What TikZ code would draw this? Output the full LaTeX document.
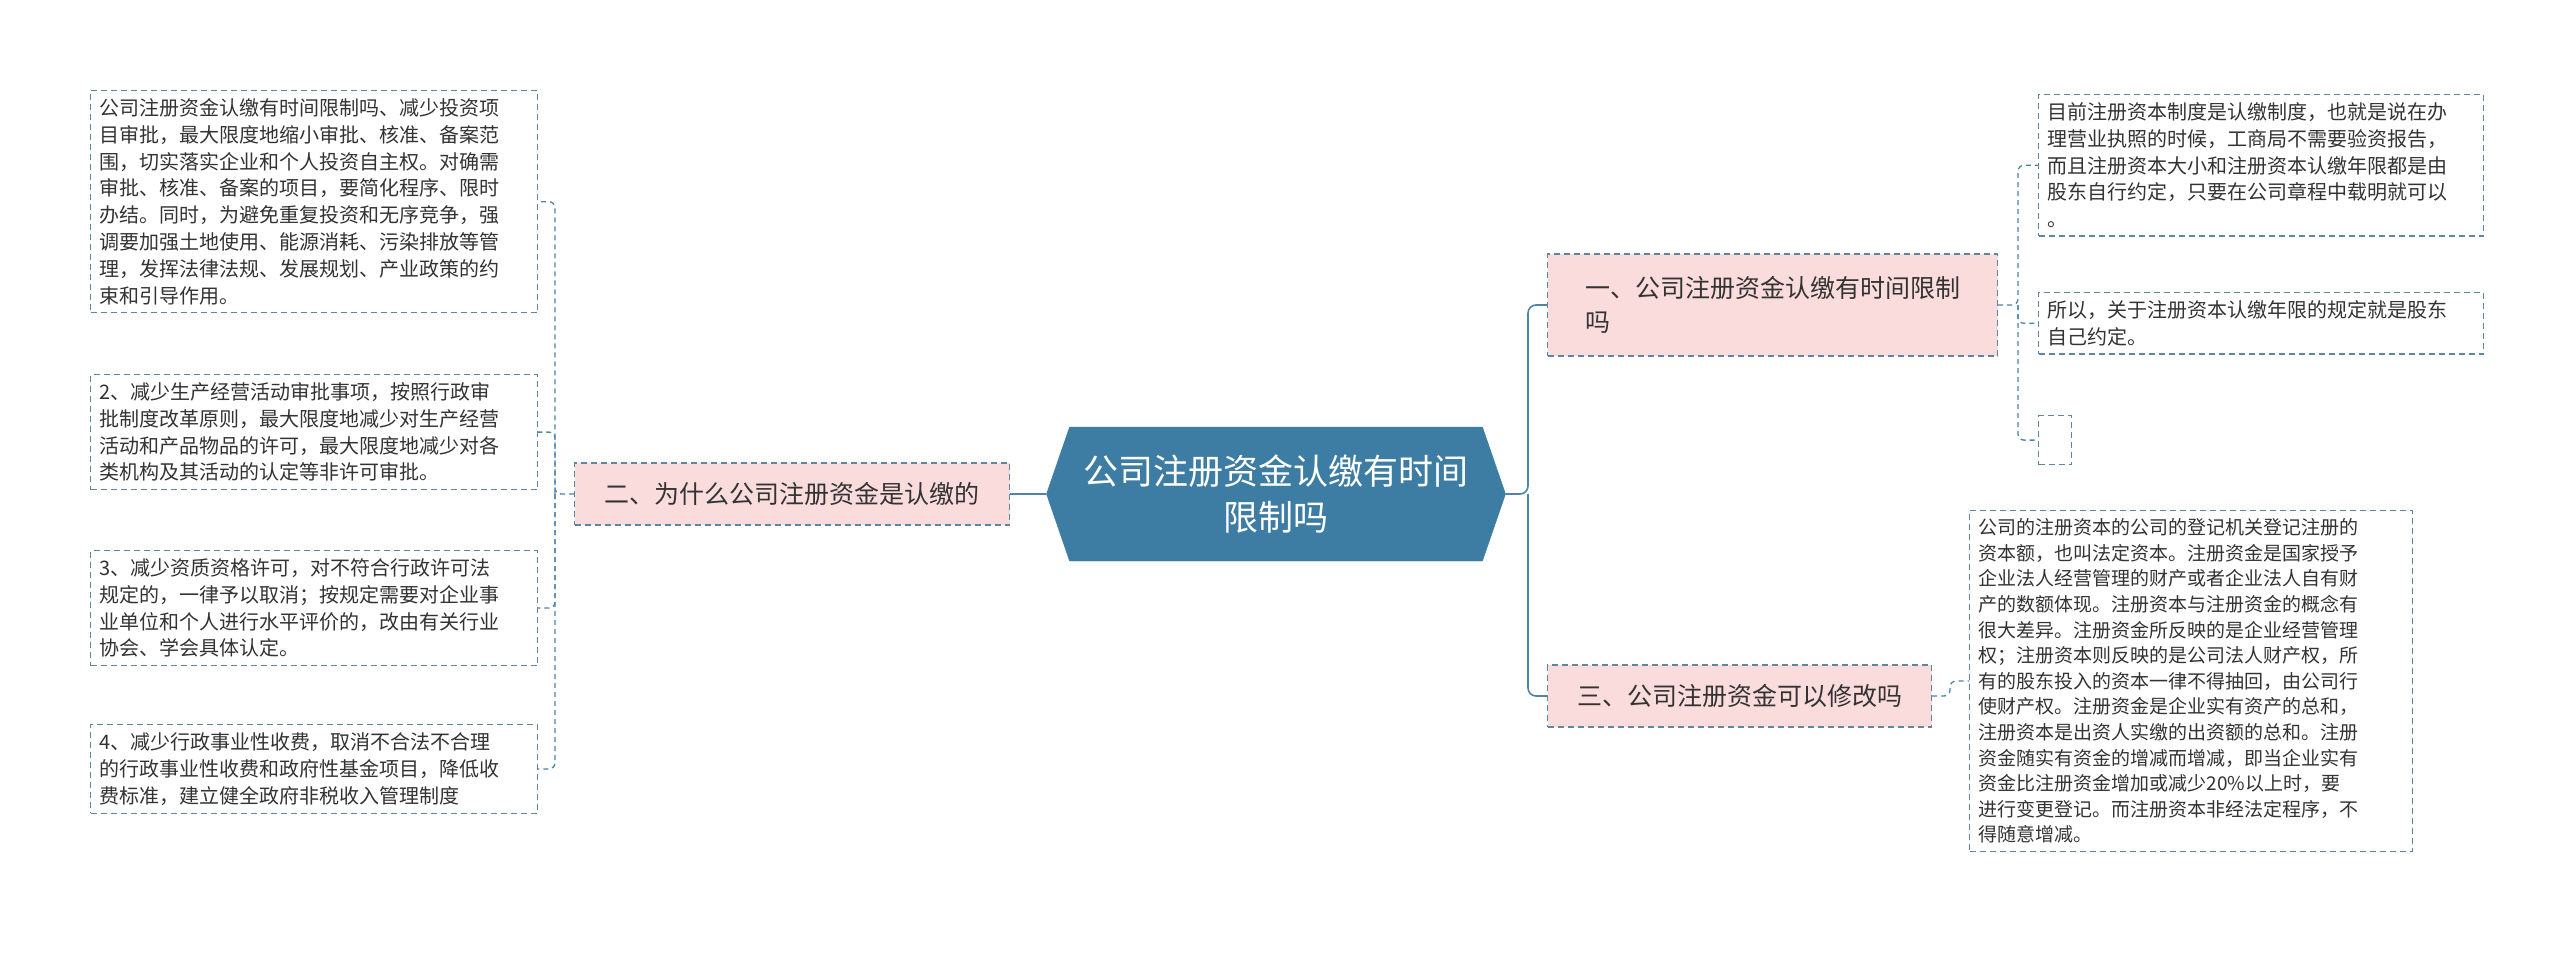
\documentclass[tikz,border=0pt]{standalone}
\usepackage{fontspec}
\setmainfont{Noto Sans CJK SC}
\usetikzlibrary{shapes.symbols}
\definecolor{mainblue}{HTML}{3D7CA3}
\definecolor{linec}{HTML}{4F84A6}
\definecolor{pinkf}{HTML}{FBDCDC}
\definecolor{dashc}{HTML}{5D86A1}
\definecolor{txt}{HTML}{333333}
\begin{document}
\begin{tikzpicture}[x=1pt,y=-1pt,
 leaf/.style={draw=dashc,dashed,dash pattern=on 6pt off 4pt,line width=1.2pt,anchor=north west,align=left,inner xsep=9pt,inner ysep=8pt,text=txt,font=\fontsize{20}{26.8}\selectfont},
 leafs/.style={leaf,font=\fontsize{19}{25.6}\selectfont},
 branch/.style={draw=dashc,dashed,dash pattern=on 6pt off 4pt,line width=1.2pt,fill=pinkf,align=left,anchor=west,inner xsep=12pt,text=txt,font=\fontsize{25}{34}\selectfont},
 conn/.style={draw=linec,line width=1.6pt,rounded corners=8pt},
 dconn/.style={draw=linec,line width=1.3pt,dashed,dash pattern=on 5pt off 4pt,rounded corners=6pt}]
\useasboundingbox (0,0) rectangle (2560,971);
\fill[white] (0,0) rectangle (2560,971);

\node[signal,signal to=west and east,signal pointer angle=142,fill=mainblue,draw=mainblue,minimum width=459pt,minimum height=134pt,text=white,align=center,font=\fontsize{35}{46}\selectfont] (c) at (1276,494) {公司注册资金认缴有时间\\限制吗};

\node[branch,minimum width=435pt,minimum height=62pt] (b2) at (574,494) {二、为什么公司注册资金是认缴的};
\node[branch,minimum width=450pt,minimum height=102pt] (b1) at (1547,305) {一、公司注册资金认缴有时间限制\\吗};
\node[branch,minimum width=384pt,minimum height=62pt] (b3) at (1547,696) {三、公司注册资金可以修改吗};

\node[leaf,text width=429pt] (l1) at (90,90) {公司注册资金认缴有时间限制吗、减少投资项\\目审批，最大限度地缩小审批、核准、备案范\\围，切实落实企业和个人投资自主权。对确需\\审批、核准、备案的项目，要简化程序、限时\\办结。同时，为避免重复投资和无序竞争，强\\调要加强土地使用、能源消耗、污染排放等管\\理，发挥法律法规、发展规划、产业政策的约\\束和引导作用。};
\node[leaf,text width=429pt] (l2) at (90,374) {2、减少生产经营活动审批事项，按照行政审\\批制度改革原则，最大限度地减少对生产经营\\活动和产品物品的许可，最大限度地减少对各\\类机构及其活动的认定等非许可审批。};
\node[leaf,text width=429pt] (l3) at (90,550) {3、减少资质资格许可，对不符合行政许可法\\规定的，一律予以取消；按规定需要对企业事\\业单位和个人进行水平评价的，改由有关行业\\协会、学会具体认定。};
\node[leaf,text width=429pt] (l4) at (90,724) {4、减少行政事业性收费，取消不合法不合理\\的行政事业性收费和政府性基金项目，降低收\\费标准，建立健全政府非税收入管理制度};

\node[leaf,text width=427pt] (r1) at (2038,94) {目前注册资本制度是认缴制度，也就是说在办\\理营业执照的时候，工商局不需要验资报告，\\而且注册资本大小和注册资本认缴年限都是由\\股东自行约定，只要在公司章程中载明就可以\\。};
\node[leaf,text width=427pt] (r2) at (2038,292) {所以，关于注册资本认缴年限的规定就是股东\\自己约定。};
\node[leaf,minimum width=33pt,minimum height=49pt,inner sep=0pt] (r3) at (2038,415) {};
\node[leafs,text width=425pt] (r4) at (1969,510) {公司的注册资本的公司的登记机关登记注册的\\资本额，也叫法定资本。注册资金是国家授予\\企业法人经营管理的财产或者企业法人自有财\\产的数额体现。注册资本与注册资金的概念有\\很大差异。注册资金所反映的是企业经营管理\\权；注册资本则反映的是公司法人财产权，所\\有的股东投入的资本一律不得抽回，由公司行\\使财产权。注册资金是企业实有资产的总和，\\注册资本是出资人实缴的出资额的总和。注册\\资金随实有资金的增减而增减，即当企业实有\\资金比注册资金增加或减少20\%以上时，要\\进行变更登记。而注册资本非经法定程序，不\\得随意增减。};

\draw[conn] (c.west) -- (b2.east);
\draw[conn] (c.east) -- (1528,494) |- (b1.west);
\draw[conn] (1528,494) |- (b3.west);

\draw[dconn] (b2.west) -- (555,494) |- (l1.east);
\draw[dconn] (555,494) |- (l2.east);
\draw[dconn] (555,494) |- (l3.east);
\draw[dconn] (555,494) |- (l4.east);

\draw[dconn] (b1.east) -- (2018,305) |- (r1.west);
\draw[dconn] (2018,305) |- (r2.west);
\draw[dconn] (2018,305) |- (r3.west);

\draw[dconn] (b3.east) -- (1950,696) |- (r4.west);
\end{tikzpicture}
\end{document}
